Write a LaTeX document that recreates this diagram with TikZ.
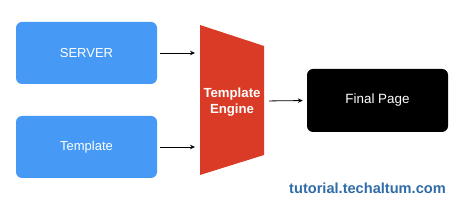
\documentclass[tikz,border=0pt]{standalone}
\usepackage{fontspec}
\setmainfont{Liberation Sans}
\usetikzlibrary{arrows.meta,positioning,calc}
\definecolor{tplBlue}{HTML}{4699F4}
\definecolor{tplRed}{HTML}{DA3B26}
\definecolor{tplLink}{HTML}{2F6CA8}

\begin{document}
\begin{tikzpicture}[x=1pt,y=1pt,font=\fontsize{13}{15}\selectfont,
  srcbox/.style={fill=tplBlue,rounded corners=6pt,minimum width=141pt,
                 minimum height=62pt,text=white,inner sep=0pt},
  flow/.style={-{Stealth[length=5pt,width=4.5pt]},line width=0.8pt,black}]
  \useasboundingbox (0,0) rectangle (474,213);
  % inputs
  \node[srcbox] (server) at (86.5,160) {SERVER};
  \node[srcbox] (tpl) at (86.5,66) {Template};
  % engine
  \coordinate (engL) at (200,112);
  \coordinate (engR) at (264,112);
  \fill[tplRed] (200,188) -- (264,167) -- (264,58) -- (200,38) -- cycle;
  \node[text=white,align=center,inner sep=0pt,
        font=\fontsize{13.2}{16}\selectfont\bfseries] (engine) at (232,111)
        {Template\\Engine};
  % output
  \node[fill=black,rounded corners=6pt,minimum width=141pt,minimum height=63pt,
        text=white,inner sep=0pt,font=\fontsize{13.4}{15}\selectfont]
        (final) at (377.5,112.5) {Final Page};
  \draw[flow,shorten <=3pt,shorten >=5pt] (server.east) -- (server.east -| engL);
  \draw[flow,shorten <=3pt,shorten >=5pt] (tpl.east) -- (tpl.east -| engL);
  \draw[flow,shorten <=5pt,shorten >=4pt] (engR) -- (final.west);
  \node[text=tplLink,font=\fontsize{14.6}{16}\selectfont\bfseries,inner sep=0pt]
        (site) at (367.5,25) {tutorial.techaltum.com};
\end{tikzpicture}
\end{document}
